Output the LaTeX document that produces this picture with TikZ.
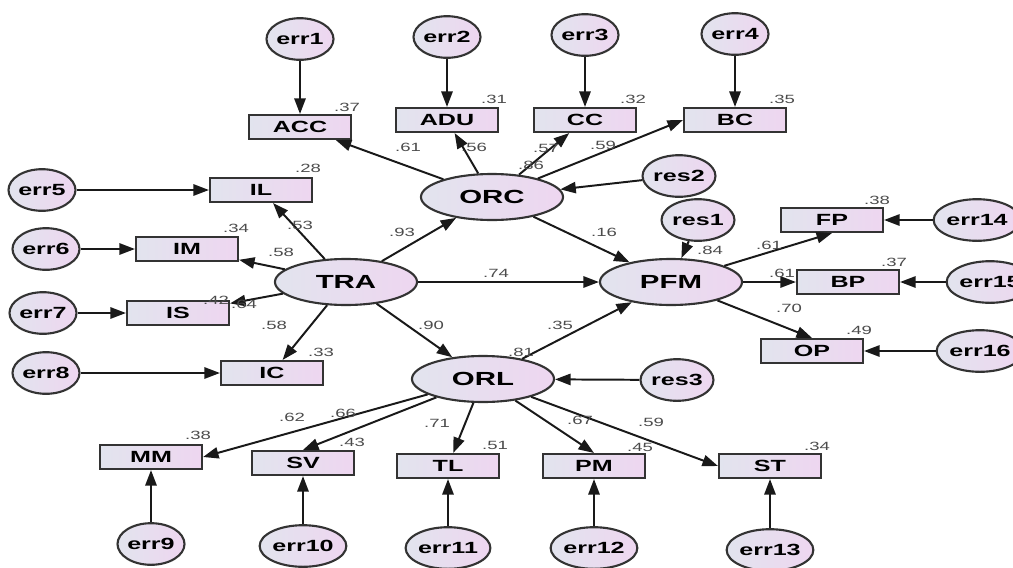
\documentclass[tikz,border=0pt]{standalone}
\usepackage{fontspec}
\newfontfamily\amosfont{Liberation Sans}[FakeStretch=1.55]
\usetikzlibrary{shapes.geometric,arrows.meta}
\definecolor{boxl}{RGB}{226,228,238}
\definecolor{boxr}{RGB}{238,214,240}
\begin{document}
\begin{tikzpicture}[x=0.025cm,y=-0.025cm,
ind/.style={draw=black!80,line width=1.5pt,left color=boxl,right color=boxr,minimum width=2.55cm,minimum height=0.6cm,inner sep=0pt,font=\amosfont\bfseries\fontsize{11.5}{11.5}\selectfont},
lv/.style={ellipse,draw=black!80,line width=1.5pt,left color=boxl,right color=boxr,minimum width=3.55cm,minimum height=1.15cm,inner sep=0pt,font=\amosfont\bfseries\fontsize{13.5}{13.5}\selectfont},
ev/.style={ellipse,draw=black!80,line width=1.5pt,left color=boxl,right color=boxr,minimum width=1.62cm,minimum height=1.04cm,inner sep=0pt,font=\amosfont\bfseries\fontsize{11.5}{11.5}\selectfont},
arr/.style={-{Triangle[length=11pt,width=8pt]},line width=1.4pt,draw=black!90},
wt/.style={font=\amosfont\fontsize{8.5}{8.5}\selectfont,text=black!70,inner sep=0pt}]
\useasboundingbox (0,0) rectangle (1013,567);
\node[lv] (TRA) at (346,282){TRA};
\node[lv] (ORC) at (492,197){ORC};
\node[lv] (PFM) at (671,282){PFM};
\node[lv] (ORL) at (483,379){ORL};
\node[ind] (ACC) at (300,127){ACC};
\node[ind] (ADU) at (447,120){ADU};
\node[ind] (CC) at (585,120){CC};
\node[ind] (BC) at (735,120){BC};
\node[ind] (IL) at (261,190){IL};
\node[ind] (IM) at (187,249){IM};
\node[ind] (IS) at (178,313){IS};
\node[ind] (IC) at (272,373){IC};
\node[ind] (MM) at (151,457){MM};
\node[ind] (SV) at (303,463){SV};
\node[ind] (TL) at (448,466){TL};
\node[ind] (PM) at (594,466){PM};
\node[ind] (ST) at (770,466){ST};
\node[ind] (FP) at (832,220){FP};
\node[ind] (BP) at (848,282){BP};
\node[ind] (OP) at (812,351){OP};
\node[ev] (err1) at (300,39){err1};
\node[ev] (err2) at (447,37){err2};
\node[ev] (err3) at (585,35){err3};
\node[ev] (err4) at (735,34){err4};
\node[ev] (err5) at (42,190){err5};
\node[ev] (err6) at (46,249){err6};
\node[ev] (err7) at (43,313){err7};
\node[ev] (err8) at (46,373){err8};
\node[ev] (err9) at (151,544){err9};
\node[ev] (err10) at (303,546){err10};
\node[ev] (err11) at (448,548){err11};
\node[ev] (err12) at (594,548){err12};
\node[ev] (err13) at (770,550){err13};
\node[ev] (err14) at (977,220){err14};
\node[ev] (err15) at (990,282){err15};
\node[ev] (err16) at (980,351){err16};
\node[ev] (res1) at (698,220){res1};
\node[ev] (res2) at (679,176){res2};
\node[ev] (res3) at (677,380){res3};
\draw[arr] (err1) -- (ACC);
\draw[arr] (err2) -- (ADU);
\draw[arr] (err3) -- (CC);
\draw[arr] (err4) -- (BC);
\draw[arr] (err5) -- (IL);
\draw[arr] (err6) -- (IM);
\draw[arr] (err7) -- (IS);
\draw[arr] (err8) -- (IC);
\draw[arr] (err9) -- (MM);
\draw[arr] (err10) -- (SV);
\draw[arr] (err11) -- (TL);
\draw[arr] (err12) -- (PM);
\draw[arr] (err13) -- (ST);
\draw[arr] (err14) -- (FP);
\draw[arr] (err15) -- (BP);
\draw[arr] (err16) -- (OP);
\draw[arr] (res1) -- (PFM);
\draw[arr] (res2) -- (ORC);
\draw[arr] (res3) -- (ORL);
\draw[arr] (TRA) -- (IL);
\draw[arr] (TRA) -- (IM);
\draw[arr] (TRA) -- (IS);
\draw[arr] (TRA) -- (IC);
\draw[arr] (TRA) -- (ORC);
\draw[arr] (TRA) -- (PFM);
\draw[arr] (TRA) -- (ORL);
\draw[arr] (ORC) -- (ACC);
\draw[arr] (ORC) -- (ADU);
\draw[arr] (ORC) -- (CC);
\draw[arr] (ORC) -- (BC.west);
\draw[arr] (ORC) -- (PFM);
\draw[arr] (ORL) -- (PFM);
\draw[arr] (ORL) -- (MM.east);
\draw[arr] (ORL) -- (SV.north);
\draw[arr] (ORL) -- (TL);
\draw[arr] (ORL) -- (PM.north);
\draw[arr] (ORL) -- (ST.west);
\draw[arr] (PFM) -- (FP.south);
\draw[arr] (PFM) -- (BP);
\draw[arr] (PFM) -- (OP.north);
\node[wt] (r1) at (347,107){.37};
\node[wt] (r2) at (494,99){.31};
\node[wt] (r3) at (633,99){.32};
\node[wt] (r4) at (782,99){.35};
\node[wt] (r5) at (308,168){.28};
\node[wt] (r6) at (236,228){.34};
\node[wt] (r7) at (216,300){.42};
\node[wt] (r8) at (321,352){.33};
\node[wt] (r9) at (198,435){.38};
\node[wt] (r10) at (352,442){.43};
\node[wt] (r11) at (495,445){.51};
\node[wt] (r12) at (640,447){.45};
\node[wt] (r13) at (817,446){.34};
\node[wt] (r14) at (877,200){.38};
\node[wt] (r15) at (894,262){.37};
\node[wt] (r16) at (859,330){.49};
\node[wt] (r17) at (710,250){.84};
\node[wt] (r18) at (521,352){.81};
\node[wt] (w1) at (408,147){.61};
\node[wt] (w2) at (474,147){.56};
\node[wt] (w3) at (546,148){.57};
\node[wt] (w4) at (531,165){.86};
\node[wt] (w5) at (603,145){.59};
\node[wt] (w6) at (402,232){.93};
\node[wt] (w7) at (604,232){.16};
\node[wt] (w8) at (496,273){.74};
\node[wt] (w9) at (431,325){.90};
\node[wt] (w10) at (560,325){.35};
\node[wt] (w11) at (300,225){.53};
\node[wt] (w12) at (281,252){.58};
\node[wt] (w13) at (244,304){.64};
\node[wt] (w14) at (274,325){.58};
\node[wt] (w15) at (292,417){.62};
\node[wt] (w16) at (343,413){.66};
\node[wt] (w17) at (437,423){.71};
\node[wt] (w18) at (580,420){.67};
\node[wt] (w19) at (651,422){.59};
\node[wt] (w20) at (769,245){.61};
\node[wt] (w21) at (782,273){.61};
\node[wt] (w22) at (789,308){.70};
\end{tikzpicture}
\end{document}
